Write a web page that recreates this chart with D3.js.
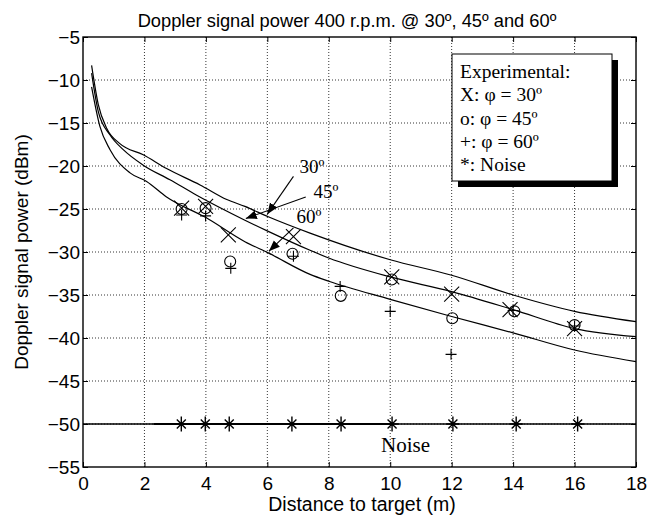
<!DOCTYPE html>
<html><head><meta charset="utf-8">
<script src="https://cdn.jsdelivr.net/npm/d3@7"></script>
<style>
html,body{margin:0;padding:0;background:#fff;}
svg{display:block;}
</style>
</head><body>
<svg id="chart" width="659" height="516"></svg>
<script>
// ---- data ----
const titleText = "Doppler signal power 400 r.p.m. @ 30º, 45º and 60º";
const xLabel = "Distance to target (m)";
const yLabel = "Doppler signal power (dBm)";
const xTicks = [0,2,4,6,8,10,12,14,16,18];
const yTicks = [-5,-10,-15,-20,-25,-30,-35,-40,-45,-50,-55];

// model curves
const curve30X = [0.28,0.5,0.77,1.2,1.96,2.72,3.81,4.68,5.27,6.03,7.39,10,12,14,16,18];
const curve30Y = [-8.3,-12.9,-15.6,-17.4,-18.7,-20.3,-22.2,-23.9,-24.7,-25.9,-27.8,-30.9,-32.7,-35.0,-36.9,-38.1];
const curve45X = [0.28,0.5,0.88,1.31,1.96,2.83,3.7,5.27,6.03,7.39,8,10,12,14,16,18];
const curve45Y = [-9.2,-13.7,-16.4,-18.1,-19.9,-21.6,-23.4,-26.3,-27.6,-29.8,-30.7,-32.9,-34.6,-36.7,-38.9,-39.85];
const curve60X = [0.28,0.55,0.88,1.53,2.07,2.72,4,5.27,6.03,7.39,8,10,12,14,16,18];
const curve60Y = [-10.8,-15.4,-18.1,-20.8,-21.8,-23.6,-26.0,-28.8,-30.1,-32.6,-33.4,-35.5,-37.5,-39.4,-41.4,-42.75];

// experimental points
const exp30X = [3.21,3.99,4.73,6.85,10.05,12.0,13.9,16.0];
const exp30Y = [-24.9,-24.7,-28.0,-28.2,-32.9,-34.9,-36.7,-38.9];
const exp45X = [3.21,3.99,4.79,6.82,8.39,10.05,12.02,14.04,16.0];
const exp45Y = [-25.0,-24.9,-31.1,-30.2,-35.1,-33.2,-37.7,-36.9,-38.5];
const exp60X = [3.21,3.99,4.81,6.85,8.37,10.0,11.98,14.0,16.0];
const exp60Y = [-25.7,-25.8,-31.9,-30.5,-34.0,-36.9,-41.9,-36.8,-38.6];
const noiseX = [3.2,3.98,4.76,6.8,8.4,10.06,12.04,14.1,16.1];
const noiseY = [-50,-50,-50,-50,-50,-50,-50,-50,-50];
const noiseLevel = -50;
const noiseSegment = [2.3,10];

const legendLines = ["Experimental:","X: φ = 30º","o: φ = 45º","+: φ = 60º","*: Noise"];
const curveLabels = ["30º","45º","60º"];

// ---- layout ----
const W=659,H=516;
const m={left:83,right:636,top:37,bottom:467};
const svg=d3.select("#chart");
svg.append("rect").attr("width",W).attr("height",H).attr("fill","#fff");

const x=d3.scaleLinear().domain([0,18]).range([m.left,m.right]);
const y=d3.scaleLinear().domain([-55,-5]).range([m.bottom,m.top]);

const sans="'Liberation Sans', Arial, sans-serif";
const serif="'Liberation Serif', 'Times New Roman', serif";

// grid
const grid=svg.append("g");
grid.selectAll("line.gx").data(xTicks.slice(1,-1)).join("line")
  .attr("x1",d=>x(d)).attr("x2",d=>x(d)).attr("y1",m.top).attr("y2",m.bottom)
  .attr("stroke","#000").attr("stroke-width",0.8).attr("stroke-dasharray","1,2");
grid.selectAll("line.gy").data(yTicks.slice(1,-1)).join("line")
  .attr("y1",d=>y(d)).attr("y2",d=>y(d)).attr("x1",m.left).attr("x2",m.right)
  .attr("stroke","#000").attr("stroke-width",0.8).attr("stroke-dasharray","1,2");

// axes
const ax=svg.append("g").attr("transform",`translate(0,${m.bottom})`)
  .call(d3.axisBottom(x).tickValues(xTicks).tickSize(-5).tickPadding(10).tickFormat(d3.format("d")));
const ay=svg.append("g").attr("transform",`translate(${m.left},0)`)
  .call(d3.axisLeft(y).tickValues(yTicks).tickSize(-5).tickPadding(3).tickFormat(d3.format("d")));
svg.append("g").attr("transform",`translate(0,${m.top})`)
  .call(d3.axisTop(x).tickValues(xTicks).tickSize(-5).tickFormat(""));
svg.append("g").attr("transform",`translate(${m.right},0)`)
  .call(d3.axisRight(y).tickValues(yTicks).tickSize(-5).tickFormat(""));
svg.selectAll(".domain").remove();
svg.selectAll(".tick line").attr("stroke","#000");
[ax,ay].forEach(a=>a.selectAll("text").attr("font-family",sans).attr("font-size",19).attr("fill","#000"));

// frame
svg.append("rect").attr("x",m.left).attr("y",m.top).attr("width",m.right-m.left).attr("height",m.bottom-m.top)
  .attr("fill","none").attr("stroke","#000").attr("stroke-width",1.4);

// curves
const line=d3.line().x(d=>x(d[0])).y(d=>y(d[1])).curve(d3.curveMonotoneX);
[[curve30X,curve30Y],[curve45X,curve45Y],[curve60X,curve60Y]].forEach(([xs,ys])=>{
  svg.append("path").datum(xs.map((v,i)=>[v,ys[i]])).attr("d",line)
    .attr("fill","none").attr("stroke","#000").attr("stroke-width",1.2);
});

// noise line
svg.append("line").attr("x1",x(0)).attr("x2",x(18)).attr("y1",y(noiseLevel)).attr("y2",y(noiseLevel))
  .attr("stroke","#000").attr("stroke-width",1.3);
svg.append("line").attr("x1",x(noiseSegment[0])).attr("x2",x(noiseSegment[1])).attr("y1",y(noiseLevel)).attr("y2",y(noiseLevel))
  .attr("stroke","#000").attr("stroke-width",2.2);

// markers
const mk=svg.append("g").attr("stroke","#000").attr("fill","none").attr("stroke-width",1.1);
exp30X.forEach((v,i)=>{const cx=x(v),cy=y(exp30Y[i]),s=7.5;
  mk.append("path").attr("d",`M${cx-s},${cy-s}L${cx+s},${cy+s}M${cx-s},${cy+s}L${cx+s},${cy-s}`);});
exp45X.forEach((v,i)=>{mk.append("circle").attr("cx",x(v)).attr("cy",y(exp45Y[i])).attr("r",5.5);});
exp60X.forEach((v,i)=>{const cx=x(v),cy=y(exp60Y[i]),s=5.5;
  mk.append("path").attr("d",`M${cx-s},${cy}L${cx+s},${cy}M${cx},${cy-s}L${cx},${cy+s}`);});
noiseX.forEach((v,i)=>{const cx=x(v),cy=y(noiseY[i]),s=6.5,d=4.5;
  mk.append("path").attr("stroke-width",1.4).attr("d",`M${cx-s},${cy}L${cx+s},${cy}M${cx},${cy-s-1}L${cx},${cy+s+1}M${cx-d},${cy-d}L${cx+d},${cy+d}M${cx-d},${cy+d}L${cx+d},${cy-d}`);});

// curve labels + arrows
const arrowDefs=svg.append("defs");
arrowDefs.append("marker").attr("id","ah").attr("viewBox","0 0 10 10").attr("refX",10).attr("refY",5)
  .attr("markerWidth",11).attr("markerHeight",11).attr("orient","auto").attr("markerUnits","userSpaceOnUse")
  .append("path").attr("d","M0,1L10,5L0,9Z").attr("fill","#000");
const lab=[ // label position (data) and arrow start/tip (data)
  {t:curveLabels[0],lx:7.05,ly:-20.8,ax0:6.85,ay0:-21.2,ax1:6.0,ay1:-25.6},
  {t:curveLabels[1],lx:7.5,ly:-23.7,ax0:7.25,ay0:-23.6,ax1:5.3,ay1:-26.1},
  {t:curveLabels[2],lx:6.95,ly:-26.6,ax0:6.85,ay0:-27.2,ax1:6.05,ay1:-29.9}
];
lab.forEach(l=>{
  svg.append("text").attr("x",x(l.lx)).attr("y",y(l.ly)).text(l.t)
    .attr("font-family",serif).attr("font-size",19).attr("fill","#000");
  svg.append("line").attr("x1",x(l.ax0)).attr("y1",y(l.ay0)).attr("x2",x(l.ax1)).attr("y2",y(l.ay1))
    .attr("stroke","#000").attr("stroke-width",1.1).attr("marker-end","url(#ah)");
});

// Noise label
svg.append("text").attr("x",x(10.5)).attr("y",y(-53.2)).attr("text-anchor","middle").text("Noise")
  .attr("font-family",serif).attr("font-size",21).attr("fill","#000");

// legend box
const lg=svg.append("g");
lg.append("rect").attr("x",458).attr("y",60).attr("width",160).attr("height",127).attr("fill","#000");
lg.append("rect").attr("x",452).attr("y",54).attr("width",160).attr("height",127).attr("fill","#fff").attr("stroke","#000").attr("stroke-width",1);
legendLines.forEach((t,i)=>{
  lg.append("text").attr("x",460).attr("y",78+i*23.3).text(t)
    .attr("font-family",serif).attr("font-size",19.5).attr("fill","#000");
});

// titles
svg.append("text").attr("x",347).attr("y",27).attr("text-anchor","middle").text(titleText)
  .attr("font-family",sans).attr("font-size",18.3).attr("fill","#000");
svg.append("text").attr("x",362).attr("y",511).attr("text-anchor","middle").text(xLabel)
  .attr("font-family",sans).attr("font-size",19.5).attr("fill","#000");
svg.append("text").attr("transform","translate(28,252) rotate(-90)").attr("text-anchor","middle").text(yLabel)
  .attr("font-family",sans).attr("font-size",19).attr("fill","#000");
</script>
</body></html>
